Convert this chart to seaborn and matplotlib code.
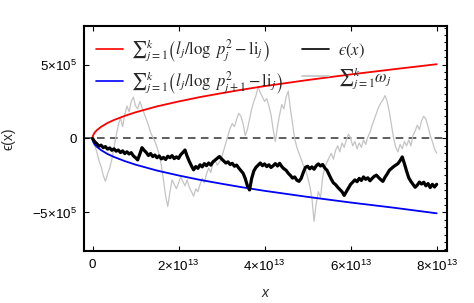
"""
Erreur epsilon(x) et bornes cumulées
"""

import matplotlib
matplotlib.use('Agg')
import matplotlib.pyplot as plt
import matplotlib.ticker as mticker
import seaborn as sns
import numpy as np

# Courbes enveloppes (x en 1e13, y en 1e5)
bound_x = [0, 0.005, 0.02, 0.05, 0.1, 0.2, 0.35, 0.5, 0.75, 1.0, 1.5, 2.0,
           2.5, 3.0, 3.5, 4.0, 5.0, 6.0, 7.0, 8.0]
upper_y = [0, 0.125, 0.25, 0.40, 0.56, 0.79, 1.05, 1.25, 1.53, 1.77, 2.17, 2.50,
           2.80, 3.06, 3.31, 3.54, 3.95, 4.33, 4.68, 5.02]
lower_y = [0, -0.125, -0.25, -0.40, -0.56, -0.79, -1.05, -1.25, -1.53, -1.77, -2.17, -2.50,
           -2.80, -3.06, -3.31, -3.54, -3.95, -4.33, -4.68, -5.06]

# Séries bruitées, pas de 0.05e13
step_x = [i * 0.05 for i in range(161)]
eps_y = [
    0.00, -0.22, -0.35, -0.52, -0.45, -0.62, -0.55, -0.72, -0.64, -0.80,
    -0.70, -0.86, -0.78, -0.95, -0.84, -1.02, -0.90, -1.05, -0.96, -1.18,
    -1.30, -1.45, -1.05, -0.62, -0.80, -0.95, -1.15, -1.02, -1.22, -1.12,
    -1.30, -1.18, -1.38, -1.28, -1.42, -1.20, -1.30, -1.16, -1.36, -1.24,
    -1.35, -1.10, -0.95, -0.78, -1.20, -1.55, -1.85, -2.12, -1.90, -2.02,
    -1.78, -1.92, -1.70, -1.84, -1.66, -1.80, -1.58, -1.46, -1.34, -1.22,
    -1.38, -1.52, -1.66, -1.58, -1.76, -1.68, -1.88, -1.80, -2.00, -2.18,
    -2.35, -2.70, -3.20, -3.48, -2.70, -2.20, -1.95, -1.80, -1.66, -1.84,
    -1.72, -1.90, -1.78, -1.96, -1.84, -1.70, -1.86, -1.68, -1.90, -2.05,
    -2.15, -2.35, -2.50, -2.68, -2.60, -2.82, -2.90, -2.70, -2.30, -1.95,
    -1.88, -2.05, -1.92, -2.08, -1.85, -1.72, -1.86, -1.76, -2.00, -2.15,
    -2.45, -2.75, -3.00, -3.12, -3.30, -3.45, -3.60, -3.85, -3.60, -3.35,
    -3.10, -2.95, -2.80, -2.92, -2.70, -2.84, -2.60, -2.76, -2.66, -2.86,
    -2.70, -2.56, -2.48, -2.64, -2.78, -2.90, -2.62, -2.40, -2.15, -2.02,
    -1.90, -1.80, -1.70, -1.50, -1.25, -1.70, -2.20, -2.65, -2.90, -3.10,
    -3.30, -3.15, -2.95, -3.08, -2.96, -3.20, -3.05, -3.32, -3.10, -3.28, -3.10,
]
omega_y = [
    0.0, -0.5, -0.9, -1.5, -1.9, -2.5, -2.9, -2.4, -2.0, -1.4,
    -0.6, 0.2, 0.9, 1.4, 0.8, 1.6, 2.2, 1.8, 2.5, 2.8,
    2.2, 2.0, 2.5, 2.1, 1.7, 1.3, 0.9, 0.4, 0.1, -0.2,
    -0.6, -1.1, -1.8, -2.8, -3.9, -4.6, -3.6, -2.8, -3.1, -3.4,
    -3.0, -2.6, -2.9, -3.2, -2.8, -3.3, -3.6, -3.9, -3.4, -3.6,
    -3.1, -2.7, -3.0, -2.4, -2.0, -2.3, -1.7, -1.5, -1.8, -1.6,
    -1.3, -0.8, -0.3, 0.2, 0.7, 1.0, 0.8, 1.3, 1.7, 1.5,
    1.0, 0.2, 0.6, 1.3, 2.0, 2.5, 2.9, 3.5, 3.1, 2.8,
    2.5, 2.7, 2.2, 1.6, 0.6, -0.2, 0.8, 1.6, 2.3, 2.0,
    2.8, 3.2, 2.0, 1.0, 0.0, -0.6, -1.0, -1.4, -1.8, -2.1,
    -2.6, -3.2, -4.0, -5.6, -4.4, -3.6, -4.0, -2.6, -2.0, -1.6,
    -1.3, -1.0, -1.4, -0.8, -0.5, -0.9, -0.3, -0.6, -0.1, 0.3,
    0.0, -0.5, -0.2, -0.7, -0.3, -0.6, -0.1, -0.4, 0.1, 0.4,
    0.9, 1.3, 1.7, 2.1, 2.4, 2.6, 2.9, 2.5, 1.8, 0.9,
    0.0, -0.6, -0.9, -0.4, -0.7, -0.2, -0.5, -0.1, -0.5, 0.2,
    0.5, 0.9, 0.6, 1.2, 1.5, 1.3, 0.8, 0.2, -0.2, -0.7, -1.0,
]

x_ticks = [0, 2e13, 4e13, 6e13, 8e13]
y_ticks = [-5e5, 0, 5e5]

labels = {
    'upper': r'$∑_{j=1}^{k}\left(l_j/\log\ p_j^2 - \mathrm{li}_j\right)$',
    'lower': r'$∑_{j=1}^{k}\left(l_j/\log\ p_{j+1}^2 - \mathrm{li}_j\right)$',
    'eps': r'$ϵ(x)$',
    'omega': r'$∑_{j=1}^{k}\omega_j$',
}

sns.set_style('ticks')
plt.rcParams['font.family'] = ['Liberation Sans', 'DejaVu Sans']
plt.rcParams['mathtext.fontset'] = 'custom'
plt.rcParams['mathtext.rm'] = 'Liberation Sans'
plt.rcParams['mathtext.it'] = 'Liberation Sans:italic'
plt.rcParams['axes.unicode_minus'] = True


def sci_fmt(v, pos):
    if v == 0:
        return '0'
    e = int(np.floor(np.log10(abs(v))))
    m = v / 10 ** e
    sign = '-' if m < 0 else ''
    return rf'${sign}{abs(m):g}{{\times}}10^{{{e}}}$'


fig = plt.figure(figsize=(4.74, 3.03), dpi=100)
ax = fig.add_axes([0.177, 0.172, 0.766, 0.742])

bx = np.array(bound_x) * 1e13
sx = np.array(step_x) * 1e13

sns.lineplot(x=bx, y=np.array(upper_y) * 1e5, ax=ax, color='#ff0000',
             linewidth=1.3, label=labels['upper'], estimator=None, sort=False)
sns.lineplot(x=bx, y=np.array(lower_y) * 1e5, ax=ax, color='#0000ff',
             linewidth=1.3, label=labels['lower'], estimator=None, sort=False)
sns.lineplot(x=sx, y=np.array(eps_y) * 1e5, ax=ax, color='black',
             linewidth=2.3, label=labels['eps'], estimator=None, sort=False, zorder=3)
sns.lineplot(x=sx, y=np.array(omega_y) * 1e5, ax=ax, color='#c4c4c4',
             linewidth=0.9, label=labels['omega'], estimator=None, sort=False, zorder=1)
ax.axhline(0, color='#333333', linewidth=1.1, dashes=(5, 3.5), zorder=0.5)

ax.set_xlim(-0.2e13, 8.24e13)
ax.set_ylim(-7.6e5, 7.6e5)
ax.set_xticks(x_ticks)
ax.set_yticks(y_ticks)
ax.xaxis.set_major_formatter(mticker.FuncFormatter(sci_fmt))
ax.yaxis.set_major_formatter(mticker.FuncFormatter(sci_fmt))
ax.yaxis.set_minor_locator(mticker.MultipleLocator(0.5e5))
ax.tick_params(which='both', direction='in', top=True, right=True,
               labelsize=9.6, width=0.8, colors='black')
ax.tick_params(which='major', length=3.5, pad=5)
ax.tick_params(axis='x', which='major', pad=6)
ax.tick_params(axis='y', which='minor', length=2.5, left=False, right=True)
for s in ax.spines.values():
    s.set_linewidth(1.5)
    s.set_color('black')

ax.set_xlabel('x', style='italic', fontsize=10, labelpad=8)
ax.set_ylabel('ϵ(x)', fontsize=10, labelpad=12)

leg = ax.legend(loc='upper left', ncol=2, frameon=False, fontsize=12,
                handlelength=1.65, handletextpad=0.5, columnspacing=1.1,
                labelspacing=0.3, borderaxespad=0.3, bbox_to_anchor=(0.0, 1.0))
for t in leg.get_texts():
    t.set_math_fontfamily('stix')
for h in leg.get_lines():
    h.set_linewidth(1.2)

plt.savefig('out.png', dpi=100, facecolor='white')
plt.close()
